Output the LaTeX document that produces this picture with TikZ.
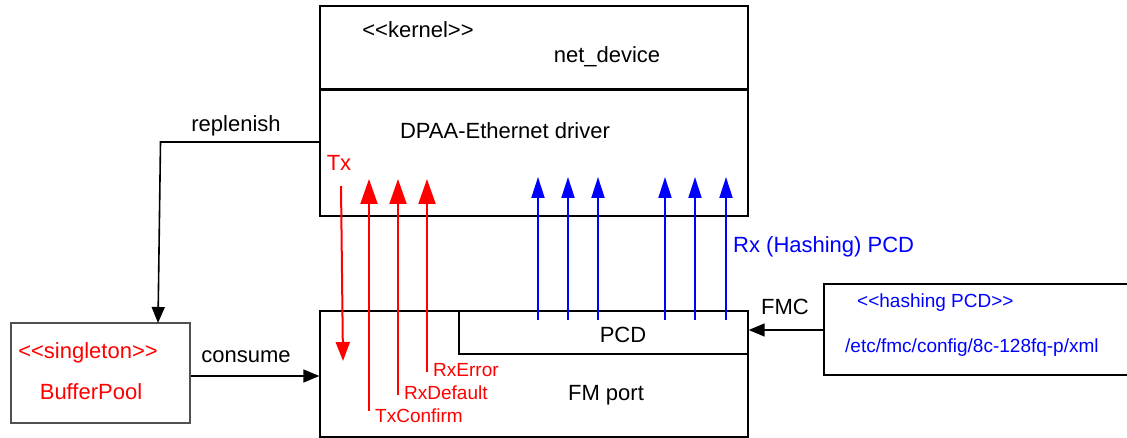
\documentclass[tikz,border=0pt]{standalone}
\usepackage{fontspec}
\setmainfont{Liberation Sans}
\usetikzlibrary{arrows.meta}
\definecolor{rred}{RGB}{255,0,0}
\definecolor{bblue}{RGB}{0,0,255}
\definecolor{bgray}{RGB}{80,80,80}
\tikzset{
  big/.style={font=\fontsize{22}{26}\selectfont, inner sep=0pt},
  small/.style={font=\fontsize{19}{23}\selectfont, inner sep=0pt},
  box/.style={draw, line width=1.4pt, inner sep=0pt, rectangle},
  redup/.style={draw=rred, line width=2pt, -{Triangle[length=25pt,width=17pt]}},
  reddown/.style={draw=rred, line width=2pt, -{Triangle[length=19pt,width=14pt]}},
  blueup/.style={draw=bblue, line width=2pt, -{Triangle[length=21pt,width=13pt]}},
  blk/.style={draw=black, line width=1.6pt, -{Triangle[length=16pt,width=13pt]}},
}
\begin{document}
\begin{tikzpicture}[x=1pt,y=-1pt]
\useasboundingbox (0,0) rectangle (1127,438);
% boxes
\node[box, minimum width=428pt, minimum height=83pt] (kern) at (534,47.5) {};
\node[box, minimum width=428pt, minimum height=127pt] (dpaa) at (534,152.5) {};
\node[box, minimum width=428pt, minimum height=126pt] (fm) at (534,374) {};
\node[box, minimum width=289pt, minimum height=43pt] (pcd) at (603.5,332.5) {};
\node[box, draw=bgray, minimum width=179pt, minimum height=100pt] (bp) at (100.5,373) {};
\node[box, minimum width=311pt, minimum height=91pt] (hash) at (979.5,329.5) {};
\draw[line width=2.6pt] (kern.south west) -- (kern.south east);
% texts
\node[big] (tkern) at (418,30) {<{}<kernel>{}>};
\node[big] (tnet) at (607,57) {net\_device};
\node[big] (tdpaa) at (505,131) {DPAA-Ethernet driver};
\node[big, text=rred] (ttx) at (339,163) {Tx};
\node[big] (trep) at (236,126) {replenish};
\node[big] (tcons) at (246,357) {consume};
\node[big, text=rred] (tsing) at (88,353) {<{}<singleton>{}>};
\node[big, text=rred] (tbp) at (91,392) {BufferPool};
\node[big] (tpcd) at (623,335) {PCD};
\node[big] (tfm) at (606,395) {FM port};
\node[small, text=rred, anchor=west] (trxe) at (433,370) {RxError};
\node[small, text=rred, anchor=west] (trxd) at (404,393) {RxDefault};
\node[small, text=rred, anchor=west] (ttxc) at (375,416) {TxConfirm};
\node[big, text=bblue, anchor=west] (trx) at (733,247) {Rx (Hashing) PCD};
\node[big] (tfmc) at (785,307) {FMC};
\node[small, text=bblue, anchor=west] (thp) at (857,303) {<{}<hashing PCD>{}>};
\node[small, text=bblue, anchor=west] (tpath) at (845,348) {/etc/fmc/config/8c-128fq-p/xml};
% red arrows
\coordinate (txs) at (341,186);
\coordinate (txe) at (343,361);
\draw[reddown] (txs) -- (txe);
\coordinate (tcs) at (369,411);
\coordinate (tce) at (369,179);
\draw[redup] (tcs) -- (tce);
\coordinate (rds) at (398,395);
\coordinate (rde) at (398,179);
\draw[redup] (rds) -- (rde);
\coordinate (res) at (427,372);
\coordinate (ree) at (427,179);
\draw[redup] (res) -- (ree);
% blue arrows
\foreach \i/\xx in {1/538,2/568,3/598,4/665,5/695,6/726}{
  \coordinate (bs\i) at (\xx,320);
  \coordinate (be\i) at (\xx,177);
  \draw[blueup] (bs\i) -- (be\i);
}
% black connectors
\coordinate (repA) at (dpaa.west |- 0,142);
\coordinate (repB) at (160.5,142);
\coordinate (repC) at (158,323);
\draw[blk] (repA) -- (repB) -- (repC);
\coordinate (consA) at (bp.east |- 0,376);
\coordinate (consB) at (fm.west |- 0,376);
\draw[blk] (consA) -- (consB);
\coordinate (fmcA) at (hash.west |- 0,330);
\coordinate (fmcB) at (pcd.east |- 0,330);
\draw[blk] (fmcA) -- (fmcB);
\end{tikzpicture}
\end{document}
